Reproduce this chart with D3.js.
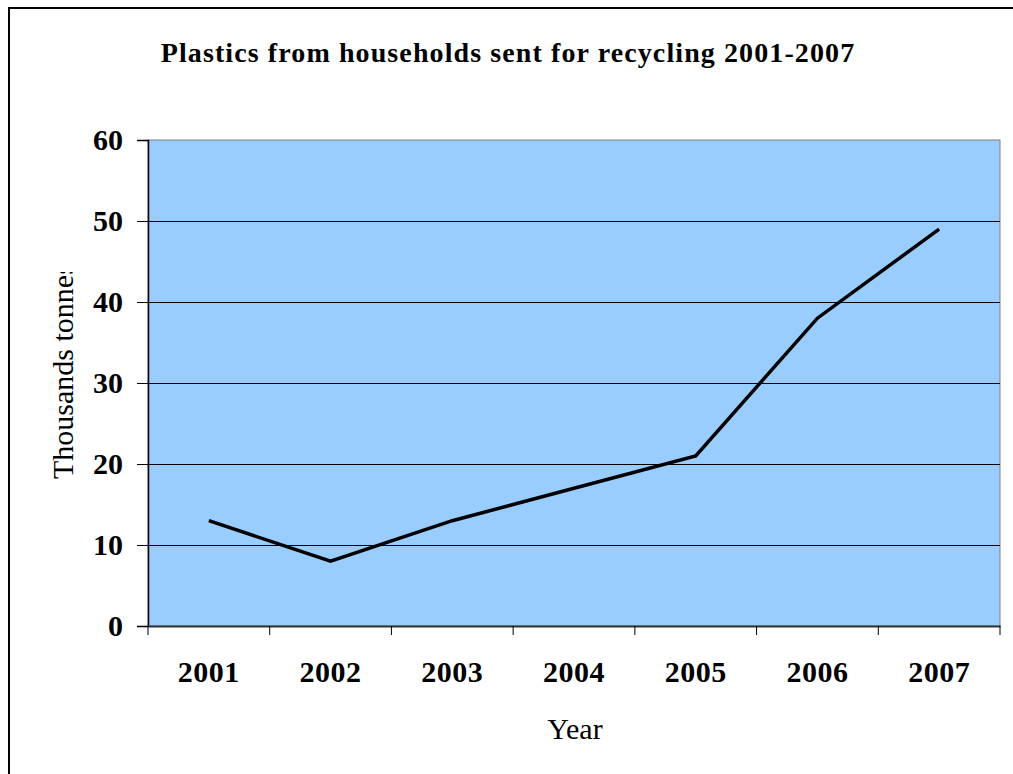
<!DOCTYPE html>
<html>
<head>
<meta charset="utf-8">
<script src="https://cdn.jsdelivr.net/npm/d3@7"></script>
<style>
    body { margin: 0; background: #fff; }
</style>
</head>
<body>
<div id="chart"></div>
<script>
const years = ["2001", "2002", "2003", "2004", "2005", "2006", "2007"];
const tonnes = [13, 8, 13, 17, 21, 38, 49];
const yTicks = [0, 10, 20, 30, 40, 50, 60];

const width = 1013, height = 774;
const plotLeft = 148, plotRight = 1000, plotTop = 140, plotBottom = 626;
const serif = "'Liberation Serif', 'Times New Roman', serif";

const svg = d3.select("#chart").append("svg")
    .attr("width", width)
    .attr("height", height)
    .attr("font-family", serif)
    .style("display", "block");

// outer chart border (runs off the right and bottom edges)
svg.append("rect")
    .attr("x", 9).attr("y", 8)
    .attr("width", width + 20).attr("height", height + 20)
    .attr("fill", "none")
    .attr("stroke", "#000")
    .attr("stroke-width", 2);

const x = d3.scaleBand()
    .domain(years)
    .range([plotLeft, plotRight]);

const y = d3.scaleLinear()
    .domain([0, 60])
    .range([plotBottom, plotTop]);

// plot area
svg.append("rect")
    .attr("x", plotLeft).attr("y", plotTop)
    .attr("width", plotRight - plotLeft).attr("height", plotBottom - plotTop)
    .attr("fill", "#99ccff")
    .attr("stroke", "#808080")
    .attr("stroke-width", 1);

// gridlines
svg.append("g")
    .selectAll("line")
    .data(yTicks.filter(d => d > 0 && d < 60))
    .enter().append("line")
    .attr("x1", plotLeft).attr("x2", plotRight)
    .attr("y1", d => y(d) + 0.5).attr("y2", d => y(d) + 0.5)
    .attr("stroke", "#000")
    .attr("stroke-width", 1);

// y axis
const yAxis = svg.append("g")
    .attr("transform", `translate(${plotLeft}, 0)`)
    .call(d3.axisLeft(y).tickValues(yTicks).tickSize(11).tickPadding(14));
yAxis.select(".domain").attr("stroke", "#000").attr("stroke-width", 1.5);
yAxis.selectAll(".tick line").attr("stroke", "#000");
yAxis.selectAll("text")
    .style("font-family", serif)
    .style("font-size", "30px")
    .style("font-weight", "bold")
    .attr("fill", "#000");

// x axis
const xAxis = svg.append("g")
    .attr("transform", `translate(0, ${plotBottom})`)
    .call(d3.axisBottom(x).tickSize(0).tickPadding(35));
xAxis.select(".domain").attr("stroke", "#333").attr("stroke-width", 2);
xAxis.selectAll("text")
    .style("font-family", serif)
    .style("font-size", "30px")
    .style("font-weight", "bold")
    .style("letter-spacing", "0.5px")
    .attr("fill", "#000");

// category boundary ticks
const bounds = years.map(d => x(d)).concat([x(years[years.length - 1]) + x.bandwidth()]);
svg.append("g")
    .selectAll("line")
    .data(bounds)
    .enter().append("line")
    .attr("x1", d => d).attr("x2", d => d)
    .attr("y1", plotBottom).attr("y2", plotBottom + 9)
    .attr("stroke", "#000")
    .attr("stroke-width", 1);

// the line
const line = d3.line()
    .x((d, i) => x(years[i]) + x.bandwidth() / 2)
    .y(d => y(d));

svg.append("path")
    .datum(tonnes)
    .attr("fill", "none")
    .attr("stroke", "#000")
    .attr("stroke-width", 3.5)
    .attr("d", line);

// title
svg.append("text")
    .attr("x", 508)
    .attr("y", 62)
    .attr("text-anchor", "middle")
    .style("font-family", serif)
    .style("font-size", "28px")
    .style("font-weight", "bold")
    .style("letter-spacing", "1.1px")
    .text("Plastics from households sent for recycling 2001-2007");

// axis titles
svg.append("text")
    .attr("x", 575)
    .attr("y", 739)
    .attr("text-anchor", "middle")
    .style("font-family", serif)
    .style("font-size", "30px")
    .text("Year");

svg.append("clipPath")
    .attr("id", "yclip")
    .append("rect")
    .attr("x", 0).attr("y", 272)
    .attr("width", 140).attr("height", 400);

svg.append("g")
    .attr("clip-path", "url(#yclip)")
    .append("text")
    .attr("transform", "translate(73, 479) rotate(-90)")
    .attr("text-anchor", "start")
    .style("font-family", serif)
    .style("font-size", "30px")
    .text("Thousands tonnes");
</script>
</body>
</html>
